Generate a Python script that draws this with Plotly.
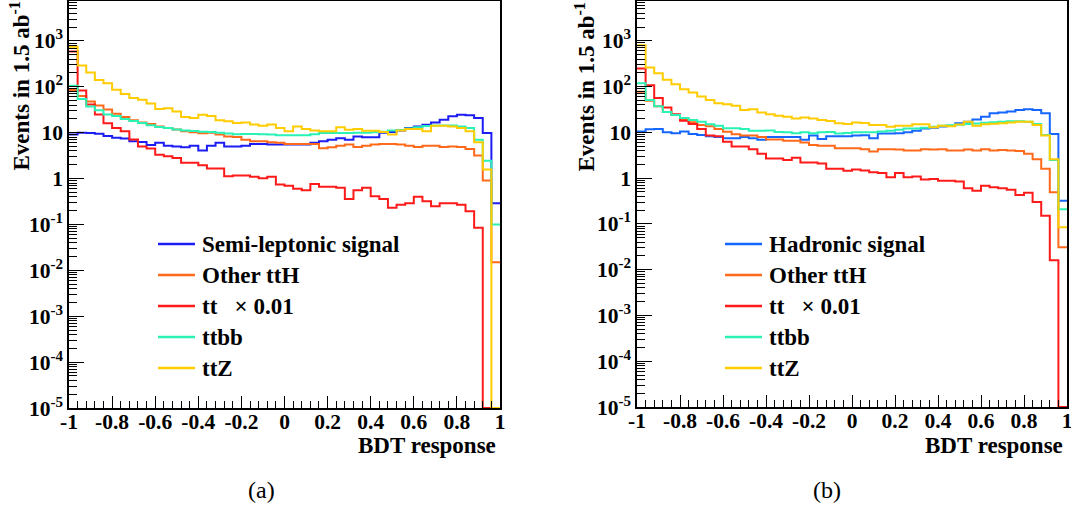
import numpy as np
import plotly.graph_objects as go

# BDT response binning: 50 bins between -1 and 1
bdt_edges = np.linspace(-1.0, 1.0, 51)

# (a) semi-leptonic selection, events per bin in 1.5 ab^-1
semilep_signal = [9.1, 10, 9.8, 9.5, 8.5, 7.8, 7.5, 6.5, 6.3, 5.4,
                  6.0, 5.2, 5.0, 4.8, 5.2, 4.1, 5.2, 6.0, 5.0, 5.0,
                  5.2, 5.7, 5.7, 5.5, 5.5, 5.5, 5.5, 5.5, 6.0, 6.5,
                  7.0, 7.6, 7.0, 8.3, 8.0, 8.0, 10, 10.3, 11.2, 12.6,
                  13.7, 14.9, 16.7, 19.2, 22.7, 24.6, 24, 20.8, 9.8, 0.29]
semilep_other_tth = [85, 63, 48, 39, 32, 26, 22, 18.6, 16.6, 15.4,
                     13.7, 12.6, 11.7, 10.7, 10.2, 9.7, 10, 9.1, 8.3, 8.1,
                     7.0, 6.5, 6.5, 6.2, 6.0, 5.7, 5.7, 5.7, 5.7, 4.6,
                     4.8, 5.2, 5.5, 4.9, 5.2, 5.5, 5.7, 5.7, 5.5, 5.2,
                     4.9, 5.2, 5.2, 4.9, 5.0, 4.9, 4.4, 3.2, 0.91, 0.015]
semilep_tt = [590, 83, 41, 25, 16, 12.6, 10.7, 7.1, 5.0, 4.5,
              3.3, 3.05, 2.8, 2.2, 2.2, 1.95, 1.66, 1.66, 1.12, 1.17,
              1.16, 1.09, 1.02, 1.09, 0.74, 0.70, 0.60, 0.56, 0.76, 0.66,
              0.66, 0.63, 0.36, 0.56, 0.63, 0.41, 0.36, 0.23, 0.27, 0.29,
              0.40, 0.32, 0.25, 0.29, 0.29, 0.27, 0.195, 0.085, 0, 0]
semilep_ttbb = [105, 54, 37, 31, 25, 23, 20, 18, 16.3, 14.5,
                13.3, 12.6, 11.7, 11.2, 10.9, 10.5, 10.3, 10, 9.6, 9.3,
                9.4, 9.4, 9.3, 9.1, 8.8, 8.8, 8.8, 8.8, 9.2, 9.8,
                9.8, 9.8, 9.8, 10, 10, 10.2, 10.5, 11.2, 11.5, 12.4,
                13.2, 14, 14.4, 14.4, 14.4, 13.7, 12.6, 7, 2.45, 0.10]
semilep_ttz = [750, 290, 205, 141, 120, 86, 70, 57, 52, 43,
               33, 34, 29, 22, 21, 24.5, 23, 18.7, 17.8, 16.3,
               16.7, 15, 14.2, 15, 12.6, 10.7, 13.7, 12, 11.2, 10.7,
               10.7, 13.2, 11.6, 12, 11, 11, 10.3, 9.1, 11.2, 12,
               12, 10.7, 14.2, 14.2, 13.7, 12.6, 10.7, 6.2, 1.57, 0]

# (b) hadronic selection
had_signal = [10.5, 11.7, 11.9, 10, 9.6, 10.5, 9.2, 8.8, 8.2, 7.9,
              7.4, 7.4, 7.9, 7.4, 6.9, 7.9, 7.9, 7.9, 7.9, 6.9,
              8.5, 7.2, 8.2, 8.2, 8.2, 8.5, 8.7, 7.4, 9.5, 9.5,
              9.6, 10, 10.9, 12.2, 12.6, 13.5, 14, 15.8, 17.1, 19,
              22, 26, 27.3, 28.7, 30.7, 32, 30.7, 26, 9.2, 0.32]
had_other_tth = [77, 49, 37, 28, 24, 19.5, 16.6, 14.5, 13.6, 11.8,
                 10.3, 9.1, 8.5, 8.5, 7.9, 7.0, 7.0, 6.6, 6.6, 6.0,
                 5.3, 5.1, 5.1, 4.5, 4.5, 4.5, 4.3, 3.8, 4.3, 4.3,
                 4.2, 4.0, 4.0, 4.3, 4.2, 4.3, 4.0, 4.0, 4.2, 4.0,
                 4.3, 4.0, 4.1, 4.0, 3.9, 3.4, 2.6, 1.6, 0.49, 0.031]
had_tt = [250, 107, 56, 35, 25, 18, 15.2, 11.8, 8.5, 8.2,
          6.2, 4.9, 4.9, 4.3, 3.4, 2.7, 2.7, 2.5, 2.8, 2.2,
          2.2, 2.1, 1.6, 1.6, 1.45, 1.55, 1.46, 1.34, 1.29, 1.04,
          1.29, 1.04, 1.09, 0.93, 0.96, 0.88, 0.88, 0.84, 0.60, 0.53,
          0.68, 0.63, 0.60, 0.56, 0.43, 0.48, 0.30, 0.15, 0.016, 0]
had_ttbb = [119, 51, 37, 28, 24, 20.5, 18.6, 17, 15.1, 14,
            12.3, 12.3, 11.8, 10.8, 10.8, 11, 10.2, 10, 9.6, 10,
            9.6, 10, 10.2, 9.5, 9.7, 10, 10, 10, 10.5, 10.8,
            11.4, 12.2, 12.2, 12.6, 13.3, 14, 14.3, 14.6, 15.2, 15.6,
            16.3, 16.6, 17, 17.4, 17.6, 17, 15.2, 8.8, 2.5, 0.21]
had_ttz = [805, 262, 196, 141, 113, 88, 74, 61, 51, 43,
           41, 38, 31, 32, 27, 25, 23, 22, 20, 21,
           20, 18.6, 17.8, 15.8, 15.2, 16.5, 16, 14.5, 14.5, 13.3,
           14, 14, 15, 15, 12.9, 14, 13.6, 14.8, 17.1, 14,
           15, 15.5, 15.8, 16.5, 17, 17, 14.5, 8.5, 2.6, 0.085]

x_tick_vals = [-1, -0.8, -0.6, -0.4, -0.2, 0, 0.2, 0.4, 0.6, 0.8, 1]
x_tick_text = ["-1", "-0.8", "-0.6", "-0.4", "-0.2", "0", "0.2", "0.4", "0.6", "0.8", "1"]
y_tick_vals = [1e-5, 1e-4, 1e-3, 1e-2, 1e-1, 1, 10, 100, 1000]
y_tick_text = ["10<sup>-5</sup>", "10<sup>-4</sup>", "10<sup>-3</sup>", "10<sup>-2</sup>",
               "10<sup>-1</sup>", "1", "10", "10<sup>2</sup>", "10<sup>3</sup>"]

panel_a_labels = ["Semi-leptonic signal", "Other ttH", "tt\u00a0\u00a0\u00a0× 0.01", "ttbb", "ttZ"]
panel_b_labels = ["Hadronic signal", "Other ttH", "tt\u00a0\u00a0\u00a0× 0.01", "ttbb", "ttZ"]

colors_a = ["#1c1cf5", "#ff6a1a", "#ff1a1a", "#2af2b4", "#ffcc00"]
colors_b = ["#1466ff", "#ff6a1a", "#ff1a1a", "#2af2b4", "#ffcc00"]

W, H = 1071, 508
LOG_MIN, LOG_MAX = -5.0, 3.87
FONT = "Times New Roman, Liberation Serif, Times, serif"


def px_x(p):
    return p / W


def px_y(p):
    return 1 - p / H


def bold_font(size):
    return dict(family=FONT, size=size, color="black", weight="bold")


def step_xy(values):
    v = np.asarray(values, dtype=float)
    # empty bins sit on the bottom of the log frame
    v = np.where(v > 0, v, 10 ** LOG_MIN)
    return bdt_edges, np.append(v, v[-1])


fig = go.Figure()

panels = [
    dict(xa="x", ya="y", series=[semilep_signal, semilep_other_tth, semilep_tt, semilep_ttbb, semilep_ttz],
         labels=panel_a_labels, colors=colors_a, left=69, right=500, top=1, bottom=408,
         leg_x=158, title_x=20, caption="(a)", cap_x=261),
    dict(xa="x2", ya="y2", series=[had_signal, had_other_tth, had_tt, had_ttbb, had_ttz],
         labels=panel_b_labels, colors=colors_b, left=637, right=1067, top=1, bottom=407,
         leg_x=725, title_x=585, caption="(b)", cap_x=827),
]

shapes = []
annotations = []
for i, p in enumerate(panels):
    for vals, name, col in zip(p["series"], p["labels"], p["colors"]):
        x, y = step_xy(vals)
        fig.add_trace(go.Scatter(x=x, y=y, mode="lines", line=dict(color=col, width=2, shape="hv"),
                                 name=name, showlegend=False, xaxis=p["xa"], yaxis=p["ya"]))
    sfx = "" if i == 0 else "2"
    axis_common = dict(showline=True, linecolor="black", linewidth=1.5, mirror=True,
                       showgrid=False, zeroline=False, ticks="inside", tickcolor="black",
                       tickwidth=1, tickfont=bold_font(21.5), automargin=False,
                       ticklabeloverflow="allow")
    fig.update_layout(**{
        "xaxis" + sfx: dict(axis_common, domain=[px_x(p["left"]), px_x(p["right"])], range=[-1, 1],
                            anchor="y" + sfx, tickmode="array", tickvals=x_tick_vals,
                            ticktext=x_tick_text, ticklen=12, ticklabelstandoff=-7,
                            minor=dict(ticks="inside", ticklen=7, dtick=0.04, tick0=-1,
                                       tickcolor="black", tickwidth=1, showgrid=False)),
        "yaxis" + sfx: dict(axis_common, domain=[px_y(p["bottom"]), px_y(p["top"])], type="log",
                            range=[LOG_MIN, LOG_MAX], anchor="x" + sfx, tickmode="array",
                            tickvals=y_tick_vals, ticktext=y_tick_text, ticklen=15,
                            minor=dict(ticks="inside", ticklen=8, dtick="D1",
                                       tickcolor="black", tickwidth=1, showgrid=False)),
    })
    # legend box
    for k, (name, col) in enumerate(zip(p["labels"], p["colors"])):
        yy = 244 + k * 31
        shapes.append(dict(type="line", xref="paper", yref="paper", x0=px_x(p["leg_x"]),
                           x1=px_x(p["leg_x"] + 37), y0=px_y(yy), y1=px_y(yy),
                           line=dict(color=col, width=2.5)))
        annotations.append(dict(text=name, xref="paper", yref="paper",
                                x=px_x(p["leg_x"] + 42), y=px_y(yy), xanchor="left", yanchor="middle",
                                showarrow=False, font=bold_font(23)))
    annotations.append(dict(text="Events in 1.5 ab<sup>-1</sup>", textangle=-90,
                            xref="paper", yref="paper", x=px_x(p["title_x"]), y=px_y(0),
                            xanchor="center", yanchor="top", showarrow=False,
                            font=bold_font(23)))
    annotations.append(dict(text="BDT response", xref="paper", yref="paper",
                            x=px_x(p["right"] - 2), y=px_y(445), xanchor="right", yanchor="middle",
                            showarrow=False, font=bold_font(23)))
    annotations.append(dict(text=p["caption"], xref="paper", yref="paper",
                            x=px_x(p["cap_x"]), y=px_y(490), xanchor="center", yanchor="middle",
                            showarrow=False, font=dict(family=FONT, size=24, color="black")))

fig.update_layout(width=W, height=H, margin=dict(l=0, r=0, t=0, b=0),
                  paper_bgcolor="white", plot_bgcolor="white",
                  shapes=shapes, annotations=annotations)

fig.write_html("out.html")
